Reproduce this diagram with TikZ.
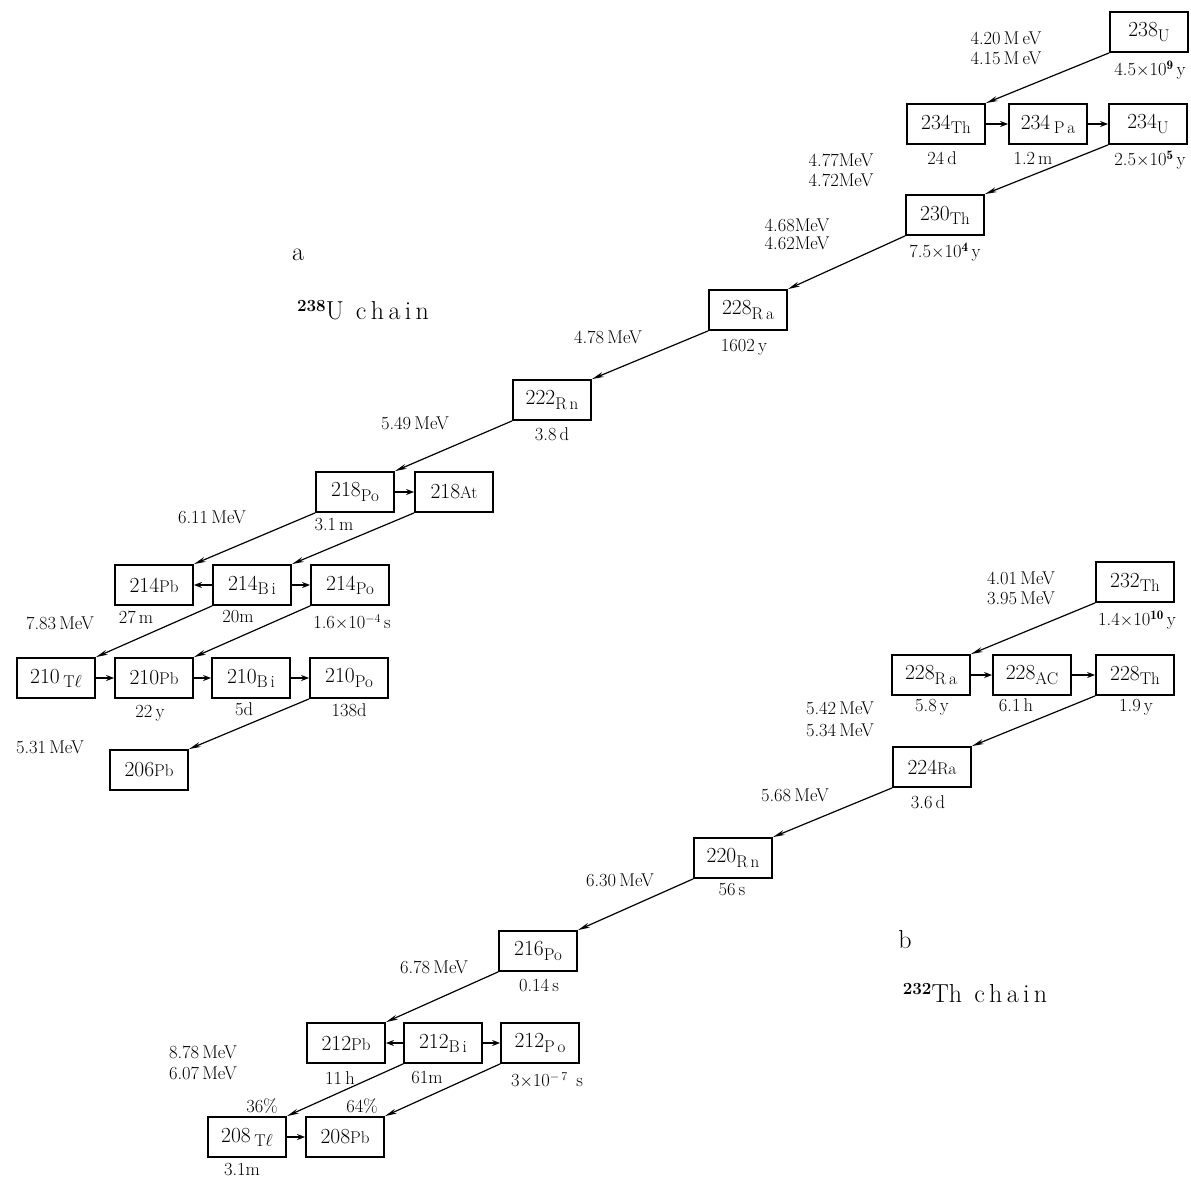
\documentclass[tikz,border=0pt]{standalone}
\usepackage{fontspec}
\usetikzlibrary{arrows.meta}
\newcommand{\nuc}[2]{#1\raisebox{-0.45ex}{\fontsize{17}{19}\selectfont#2}}
\newcommand{\nucin}[2]{#1{\fontsize{17}{19}\selectfont #2}}
\newcommand{\chainlab}[2]{{\fontsize{17}{20}\selectfont\bfseries\raisebox{1.0ex}{#1}}#2}
\begin{document}
\begin{tikzpicture}[x=1pt,y=-1pt,
  iso/.style={draw,line width=1.8pt,minimum width=78pt,minimum height=40pt,inner sep=0pt,font=\fontsize{21.5}{24}\selectfont},
  lab/.style={inner sep=0pt,font=\fontsize{18.5}{21}\selectfont},
  big/.style={inner sep=0pt,font=\fontsize{26}{30}\selectfont},
  dec/.style={line width=1.2pt,-{Stealth[length=12pt,width=5pt]}},
  hdec/.style={line width=2.2pt,-{Stealth[length=8pt,width=6pt]}}]
\useasboundingbox[fill=white] (0,0) rectangle (1191,1178);
% ---------- 238U chain ----------
\node[iso] (U238) at (1149,32) {\nuc{238}{U}};
\node[iso] (Th234) at (946,124) {\nuc{234}{Th}};
\node[iso] (Pa234) at (1048,124) {\nuc{234\,}{P\,a}};
\node[iso] (U234) at (1148,124) {\nuc{234}{U}};
\node[iso] (Th230) at (945,215) {\nuc{230}{Th}};
\node[iso] (Ra228) at (748,310) {\nuc{228}{R\,a}};
\node[iso] (Rn222) at (552,400) {\nuc{222}{R\,n}};
\node[iso] (Po218) at (355,492) {\nuc{218}{Po}};
\node[iso] (At218) at (454,492) {\nucin{218}{At}};
\node[iso] (Pb214) at (154,585) {\nucin{214}{Pb}};
\node[iso] (Bi214) at (252,585) {\nuc{214}{B\,i}};
\node[iso] (Po214) at (350,585) {\nuc{214}{Po}};
\node[iso] (Tl210) at (56,678) {\nuc{210\,}{T$\ell$}};
\node[iso] (Pb210) at (154,678) {\nucin{210}{Pb}};
\node[iso] (Bi210) at (251,678) {\nuc{210}{B\,i}};
\node[iso] (Po210) at (349,678) {\nuc{210}{Po}};
\node[iso] (Pb206) at (149,770) {\nucin{206}{Pb}};
\draw[dec] (U238.south west) -- (Th234.north east);
\draw[hdec] (Th234) -- (Pa234);
\draw[hdec] (Pa234) -- (U234);
\draw[dec] (U234.south west) -- (Th230.north east);
\draw[dec] (Th230.south west) -- (Ra228.north east);
\draw[dec] (Ra228.south west) -- (Rn222.north east);
\draw[dec] (Rn222.south west) -- (Po218.north east);
\draw[hdec] (Po218) -- (At218);
\draw[dec] (Po218.south west) -- (Pb214.north east);
\draw[dec] (At218.south west) -- (Bi214.north east);
\draw[hdec] (Bi214) -- (Pb214);
\draw[hdec] (Bi214) -- (Po214);
\draw[dec] (Bi214.south west) -- (Tl210.north east);
\draw[dec] (Po214.south west) -- (Pb210.north east);
\draw[hdec] (Tl210) -- (Pb210);
\draw[hdec] (Pb210) -- (Bi210);
\draw[hdec] (Bi210) -- (Po210);
\draw[dec] (Po210.south west) -- (Pb206.north east);
\node[lab] (e1) at (1006,38) {4.20\,M\,eV};
\node[lab] (e2) at (1006,58) {4.15\,M\,eV};
\node[lab] (t1) at (1150,70) {4.5$\times$10$^{\mathbf 9}$\,y};
\node[lab] (t2) at (942,158) {24\,d};
\node[lab] (t3) at (1033,158) {1.2\,m};
\node[lab] (t4) at (1150,160) {2.5$\times$10$^{\mathbf 5}$\,y};
\node[lab] (e3) at (841,160) {4.77MeV};
\node[lab] (e4) at (841,180) {4.72MeV};
\node[lab] (e5) at (797,225) {4.68MeV};
\node[lab] (e6) at (797,243) {4.62MeV};
\node[lab] (t5) at (945,252) {7.5$\times$10$^{\mathbf 4}$\,y};
\node[lab] (e7) at (608,337) {4.78\,MeV};
\node[lab] (t6) at (744,347) {1602\,y};
\node[lab] (e8) at (415,423) {5.49\,MeV};
\node[lab] (t7) at (552,434) {3.8\,d};
\node[lab] (e9) at (212,517) {6.11\,MeV};
\node[lab] (t8) at (334,525) {3.1\,m};
\node[lab] (e10) at (60,623) {7.83\,MeV};
\node[lab] (t9) at (136,617) {27\,m};
\node[lab] (t10) at (238,617) {20m};
\node[lab] (t11) at (352,622) {1.6$\times$10$^{-4}$\,s};
\node[lab] (t12) at (150,713) {22\,y};
\node[lab] (t13) at (244,709) {5d};
\node[lab] (t14) at (349,710) {138d};
\node[lab] (e11) at (50,747) {5.31\,MeV};
\node[big] (la) at (298,255) {a};
\node[big] (ca) at (363,310) {\chainlab{238}{U\, c\,h\,a\,i\,n}};
% ---------- 232Th chain ----------
\node[iso] (Th232) at (1135,582) {\nuc{232}{Th}};
\node[iso] (Ra228b) at (931,675) {\nuc{228}{R\,a}};
\node[iso] (Ac228) at (1032,675) {\nuc{228}{AC}};
\node[iso] (Th228) at (1135,675) {\nuc{228}{Th}};
\node[iso] (Ra224) at (932,767) {\nucin{224}{Ra}};
\node[iso] (Rn220) at (733,858) {\nuc{220}{R\,n}};
\node[iso] (Po216) at (538,951) {\nuc{216}{Po}};
\node[iso] (Pb212) at (346,1043) {\nucin{212}{Pb}};
\node[iso] (Bi212) at (443,1043) {\nuc{212}{B\,i}};
\node[iso] (Po212) at (540,1043) {\nuc{212}{P\,o}};
\node[iso] (Tl208) at (247,1137) {\nuc{208\,}{T$\ell$}};
\node[iso] (Pb208) at (345,1137) {\nucin{208}{Pb}};
\draw[dec] (Th232.south west) -- (Ra228b.north east);
\draw[hdec] (Ra228b) -- (Ac228);
\draw[hdec] (Ac228) -- (Th228);
\draw[dec] (Th228.south west) -- (Ra224.north east);
\draw[dec] (Ra224.south west) -- (Rn220.north east);
\draw[dec] (Rn220.south west) -- (Po216.north east);
\draw[dec] (Po216.south west) -- (Pb212.north east);
\draw[hdec] (Bi212) -- (Pb212);
\draw[hdec] (Bi212) -- (Po212);
\draw[dec] (Bi212.south west) -- (Tl208.north east);
\draw[dec] (Po212.south west) -- (Pb208.north east);
\draw[hdec] (Tl208) -- (Pb208);
\node[lab] (f1) at (1021,578) {4.01\,MeV};
\node[lab] (f2) at (1021,598) {3.95\,MeV};
\node[lab] (s1) at (1137,620) {1.4$\times$10$^{\mathbf{10}}$\,y};
\node[lab] (s2) at (932,707) {5.8\,y};
\node[lab] (s3) at (1016,705) {6.1\,h};
\node[lab] (s4) at (1136,707) {1.9\,y};
\node[lab] (f3) at (840,708) {5.42\,MeV};
\node[lab] (f4) at (840,730) {5.34\,MeV};
\node[lab] (s5) at (928,802) {3.6\,d};
\node[lab] (f5) at (795,795) {5.68\,MeV};
\node[lab] (s6) at (732,890) {56\,s};
\node[lab] (f6) at (620,880) {6.30\,MeV};
\node[lab] (s7) at (539,985) {0.14\,s};
\node[lab] (f7) at (434,967) {6.78\,MeV};
\node[lab] (f8) at (203,1052) {8.78\,MeV};
\node[lab] (f9) at (203,1073) {6.07\,MeV};
\node[lab] (s8) at (340,1078) {11\,h};
\node[lab] (s9) at (427,1078) {61m};
\node[lab] (s10) at (547,1080) {3$\times$10$^{-\,7}$\ \,s};
\node[lab] (p1) at (262,1106) {36\%};
\node[lab] (p2) at (362,1106) {64\%};
\node[lab] (s11) at (242,1170) {3.1m};
\node[big] (lb) at (905,940) {b};
\node[big] (cb) at (975,993) {\chainlab{232}{Th\, c\,h\,a\,i\,n}};
\end{tikzpicture}
\end{document}
